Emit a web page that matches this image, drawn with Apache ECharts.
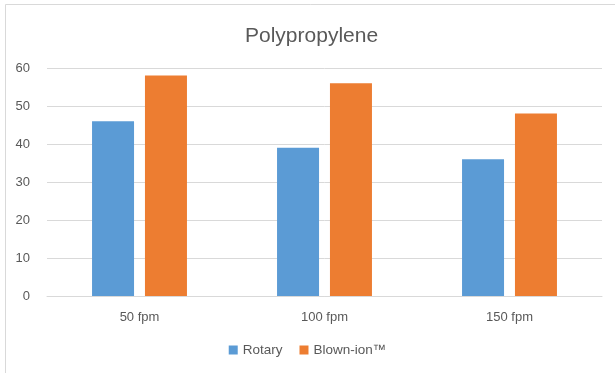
<!DOCTYPE html>
<html>
<head>
<meta charset="utf-8">
<script src="https://cdn.jsdelivr.net/npm/echarts@6/dist/echarts.min.js"></script>
<style>
  html, body { margin: 0; padding: 0; background: #ffffff; }
  #chart { width: 615px; height: 373px; }
</style>
</head>
<body>
<div id="chart"></div>
<script>
// Line speeds on the category axis
const categories = ['50 fpm', '100 fpm', '150 fpm'];
// Results per ionizer type
const rotary = [46, 39, 36];
const blownIon = [58, 56, 48];
const seriesNames = ['Rotary', 'Blown-ion™'];

const textColor = '#595959';
const fontFamily = '"Liberation Sans", "DejaVu Sans", sans-serif';

const chart = echarts.init(document.getElementById('chart'), null, { renderer: 'canvas' });
chart.setOption({
  animation: false,
  backgroundColor: '#ffffff',
  textStyle: { fontFamily: fontFamily },
  graphic: [{
    type: 'rect',
    shape: { x: 5.5, y: 4.5, width: 700, height: 400 },
    style: { fill: 'none', stroke: '#d9d9d9', lineWidth: 1 },
    silent: true,
    z: -1
  }],
  title: {
    text: 'Polypropylene',
    left: 240,
    top: 21,
    textStyle: { color: textColor, fontSize: 21, fontWeight: 'normal', fontFamily: fontFamily }
  },
  grid: { left: 47, right: 13, top: 68, bottom: 77, containLabel: false },
  legend: {
    data: seriesNames,
    bottom: 11,
    left: 'center',
    itemWidth: 9,
    itemHeight: 9,
    itemGap: 17,
    icon: 'rect',
    textStyle: { color: textColor, fontSize: 13.5, fontFamily: fontFamily }
  },
  xAxis: {
    type: 'category',
    data: categories,
    axisLine: { show: true, lineStyle: { color: '#d9d9d9', width: 1 } },
    axisTick: { show: false },
    axisLabel: { color: textColor, fontSize: 13, margin: 15, fontFamily: fontFamily }
  },
  yAxis: {
    type: 'value',
    min: 0,
    max: 60,
    interval: 10,
    axisLine: { show: false },
    axisTick: { show: false },
    axisLabel: { color: textColor, fontSize: 13, margin: 17, fontFamily: fontFamily },
    splitLine: { lineStyle: { color: '#d9d9d9', width: 1 } }
  },
  series: [
    {
      name: seriesNames[0],
      type: 'bar',
      data: rotary,
      barWidth: 42,
      barGap: '26%',
      itemStyle: { color: '#5B9BD5' }
    },
    {
      name: seriesNames[1],
      type: 'bar',
      data: blownIon,
      barWidth: 42,
      itemStyle: { color: '#ED7D31' }
    }
  ]
});
</script>
</body>
</html>
